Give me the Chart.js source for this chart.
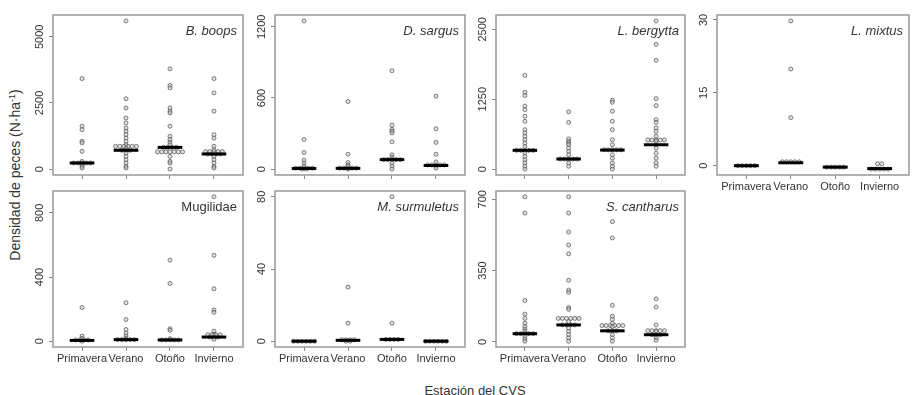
<!DOCTYPE html>
<html>
<head>
<meta charset="utf-8">
<script src="https://cdn.jsdelivr.net/npm/chart.js@4.4.1/dist/chart.umd.min.js"></script>
<style>
    body {
        margin: 0;
        width: 914px;
        height: 395px;
        background: #fff;
        position: relative;
        overflow: hidden;
        font-family: "Liberation Sans", Arial, sans-serif;
        color: #333;
    }
    canvas {
        position: absolute;
    }
    #yTitle {
        position: absolute;
        left: 15px;
        top: 175px;
        transform: translate(-50%, -50%) rotate(-90deg);
        white-space: nowrap;
        font-size: 14px;
    }
    #yTitle sup {
        font-size: 9px;
    }
    #xTitle {
        position: absolute;
        left: 475px;
        top: 390px;
        transform: translate(-50%, -50%);
        white-space: nowrap;
        font-size: 13px;
    }
</style>
</head>
<body>
<div id="yTitle">Densidad de peces (N·ha<sup>-1</sup>)</div>
<div id="xTitle">Estación del CVS</div>
<script>
const seasons = ["Primavera", "Verano", "Otoño", "Invierno"];

// B. boops
const boops = [
    [3420, 1620, 1490, 1050, 990, 670, 290, 230, 230, 230, 230, 230, 160, 100, 40],
    [5600, 2660, 2310, 1930, 1740, 1550, 1430, 1300, 1170, 1050, 920, 860, 860, 860, 860, 860, 860, 790, 710, 710, 710, 600, 480, 350, 230, 100, 40],
    [3790, 3160, 3070, 2310, 2190, 2120, 1620, 1240, 1110, 1010, 920, 820, 820, 820, 820, 650, 650, 650, 650, 650, 650, 650, 480, 290, 230, 0],
    [3420, 2880, 2190, 1300, 1170, 860, 730, 660, 660, 660, 660, 660, 570, 570, 570, 570, 480, 350, 230, 100, 40]
];
const boopsMedian = [230, 710, 820, 570];
const boopsTicks = [0, 2500, 5000];

// D. sargus
const sargus = [
    [1250, 250, 140, 75, 50, 25, 8, 8, 8, 8, 8, 0, 0],
    [570, 125, 55, 35, 25, 8, 8, 8, 8, 8, 0],
    [830, 370, 335, 320, 305, 230, 120, 100, 80, 80, 80, 80, 80, 50, 25, 0],
    [615, 340, 225, 125, 60, 35, 35, 35, 35, 35, 25, 8]
];
const sargusMedian = [5, 6, 80, 30];
const sargusTicks = [0, 600, 1200];

// L. bergytta
const bergytta = [
    [1675, 1375, 1315, 1125, 1065, 945, 855, 705, 645, 585, 525, 465, 405, 335, 335, 335, 335, 335, 290, 225, 165, 110, 50, 0],
    [1025, 835, 540, 495, 465, 435, 375, 315, 255, 180, 180, 180, 180, 180, 110, 50],
    [1230, 1195, 1035, 855, 705, 525, 435, 345, 345, 345, 345, 345, 255, 195, 110, 50, 0],
    [2650, 2230, 1945, 1260, 1135, 885, 835, 735, 675, 585, 520, 520, 520, 520, 520, 495, 435, 375, 285, 195, 110, 50]
];
const bergyttaMedian = [335, 180, 340, 435];
const bergyttaTicks = [0, 1250, 2500];

// L. mixtus
const mixtus = [
    [0, 0, 0, 0, 0],
    [29.8, 19.9, 9.9, 0.8, 0.8, 0.8, 0.8, 0.8],
    [-0.3, -0.3, -0.3, -0.3, -0.3],
    [0.4, 0.4, -0.7, -0.7, -0.7, -0.7, -0.7]
];
const mixtusMedian = [0, 0.6, -0.3, -0.6];
const mixtusTicks = [0, 15, 30];

// Mugilidae
const mugilidae = [
    [210, 32, 18, 8, 8, 8, 8, 0],
    [240, 135, 73, 50, 32, 18, 10, 10, 10, 10, 10],
    [505, 360, 78, 68, 16, 8, 8, 8, 8, 8],
    [900, 535, 327, 195, 180, 63, 43, 40, 40, 40, 40, 26, 26, 26, 12]
];
const mugilidaeMedian = [5, 10, 8, 26];
const mugilidaeTicks = [0, 400, 800];

// M. surmuletus
const surmuletus = [
    [0, 0, 0, 0, 0, 0],
    [30, 10, 0.8, 0.8, 0.8, 0.8, 0, 0],
    [80, 10, 1, 1, 1, 1],
    [0, 0, 0, 0, 0, 0]
];
const surmuletusMedian = [0, 0.5, 1, 0];
const surmuletusTicks = [0, 40, 80];

// S. cantharus
const cantharus = [
    [712, 632, 203, 136, 115, 91, 75, 62, 51, 40, 40, 40, 40, 40, 27, 14, 3],
    [712, 632, 539, 475, 432, 302, 254, 243, 168, 160, 115, 115, 115, 115, 115, 115, 99, 83, 83, 83, 83, 67, 51, 35, 19, 3],
    [590, 510, 179, 126, 110, 91, 80, 80, 80, 80, 80, 80, 75, 54, 54, 54, 35, 19, 3],
    [211, 171, 83, 55, 55, 55, 55, 55, 51, 35, 35, 35, 19, 8]
];
const cantharusMedian = [40, 83, 54, 35];
const cantharusTicks = [0, 350, 700];

const panels = [
    { title: "B. boops", italic: true, values: boops, medians: boopsMedian, ticks: boopsTicks, col: 0, row: 0, labels: false },
    { title: "D. sargus", italic: true, values: sargus, medians: sargusMedian, ticks: sargusTicks, col: 1, row: 0, labels: false },
    { title: "L. bergytta", italic: true, values: bergytta, medians: bergyttaMedian, ticks: bergyttaTicks, col: 2, row: 0, labels: false },
    { title: "L. mixtus", italic: true, values: mixtus, medians: mixtusMedian, ticks: mixtusTicks, col: 3, row: 0, labels: true },
    { title: "Mugilidae", italic: false, values: mugilidae, medians: mugilidaeMedian, ticks: mugilidaeTicks, col: 0, row: 1, labels: true },
    { title: "M. surmuletus", italic: true, values: surmuletus, medians: surmuletusMedian, ticks: surmuletusTicks, col: 1, row: 1, labels: true },
    { title: "S. cantharus", italic: true, values: cantharus, medians: cantharusMedian, ticks: cantharusTicks, col: 2, row: 1, labels: true }
];

// panel boxes in the page
const colLeft = [53, 275, 496, 717];
const colRight = [246, 468, 688, 912];
const rowTop = [15, 191];
const rowBottom = [175, 347];
const axisW = 40, padTop = 8, padRight = 2;
const fontFamily = "'Liberation Sans', Arial, sans-serif";

// R-style stack: equal values side by side
function stackPoints(values, cat) {
    const counts = {};
    values.forEach(v => counts[v] = (counts[v] || 0) + 1);
    const seen = {};
    return values.map(v => {
        const i = seen[v] || 0;
        seen[v] = i + 1;
        return { x: cat + (i - (counts[v] - 1) / 2) * 0.095, y: v };
    });
}

// R pads the data range by 4%
function paddedRange(groups) {
    const all = [].concat(...groups);
    const lo = Math.min(...all), hi = Math.max(...all);
    const d = (hi - lo) * 0.04;
    return [lo - d, hi + d];
}

const boxPlugin = {
    id: "box",
    afterDraw(chart, args, opts) {
        const ctx = chart.ctx;
        const a = chart.chartArea;
        ctx.save();
        ctx.strokeStyle = "#999";
        ctx.lineWidth = 1.5;
        ctx.strokeRect(a.left, a.top, a.right - a.left, a.bottom - a.top);

        // y tick labels, parallel to the axis
        const ys = chart.scales.y;
        ctx.fillStyle = "#333";
        ctx.font = "11px " + fontFamily;
        ctx.textAlign = "center";
        ctx.textBaseline = "middle";
        opts.ticks.forEach(v => {
            ctx.save();
            ctx.translate(a.left - 13, ys.getPixelForValue(v));
            ctx.rotate(-Math.PI / 2);
            ctx.fillText(String(v), 0, 0);
            ctx.restore();
        });

        ctx.font = (opts.italic ? "italic " : "") + "13px " + fontFamily;
        ctx.textAlign = "right";
        ctx.fillText(opts.title, a.right - 6, a.top + 16);
        ctx.restore();
    }
};

panels.forEach(p => {
    const boxW = colRight[p.col] - colLeft[p.col];
    const boxH = rowBottom[p.row] - rowTop[p.row];
    const xH = p.labels ? 28 : 8;

    const canvas = document.createElement("canvas");
    canvas.width = boxW + axisW + padRight;
    canvas.height = boxH + padTop + xH;
    canvas.style.left = (colLeft[p.col] - axisW) + "px";
    canvas.style.top = (rowTop[p.row] - padTop) + "px";
    document.body.appendChild(canvas);

    const range = paddedRange(p.values);

    const medianSets = p.medians.map((m, i) => ({
        data: [{ x: i + 1 - 0.28, y: m }, { x: i + 1 + 0.28, y: m }],
        showLine: true,
        borderColor: "#000",
        borderWidth: 3,
        pointRadius: 0
    }));

    const pointSet = {
        data: [].concat(...p.values.map((vals, i) => stackPoints(vals, i + 1))),
        pointRadius: 2,
        pointBorderWidth: 1,
        backgroundColor: "rgba(200, 200, 200, 0.5)",
        borderColor: "rgba(85, 85, 85, 0.75)"
    };

    new Chart(canvas, {
        type: "scatter",
        data: { datasets: medianSets.concat([pointSet]) },
        options: {
            responsive: false,
            animation: false,
            events: [],
            layout: {
                padding: { top: padTop, right: padRight, left: 0, bottom: 0 }
            },
            plugins: {
                legend: { display: false },
                tooltip: { enabled: false },
                box: { title: p.title, italic: p.italic, ticks: p.ticks }
            },
            scales: {
                x: {
                    type: "linear",
                    min: 0.34,
                    max: 4.66,
                    afterBuildTicks: s => { s.ticks = [1, 2, 3, 4].map(v => ({ value: v })); },
                    afterFit: s => { s.height = xH; },
                    ticks: {
                        display: p.labels,
                        autoSkip: false,
                        maxRotation: 0,
                        minRotation: 0,
                        padding: 1,
                        color: "#333",
                        font: { size: 11, family: fontFamily },
                        callback: v => seasons[v - 1]
                    },
                    grid: {
                        drawOnChartArea: false,
                        drawTicks: true,
                        tickLength: 4,
                        color: "#888"
                    },
                    border: { display: false }
                },
                y: {
                    min: range[0],
                    max: range[1],
                    afterBuildTicks: s => { s.ticks = p.ticks.map(v => ({ value: v })); },
                    afterFit: s => { s.width = axisW; },
                    ticks: { display: false },
                    grid: {
                        drawOnChartArea: false,
                        drawTicks: true,
                        tickLength: 4,
                        color: "#888"
                    },
                    border: { display: false }
                }
            }
        },
        plugins: [boxPlugin]
    });
});
</script>
</body>
</html>
